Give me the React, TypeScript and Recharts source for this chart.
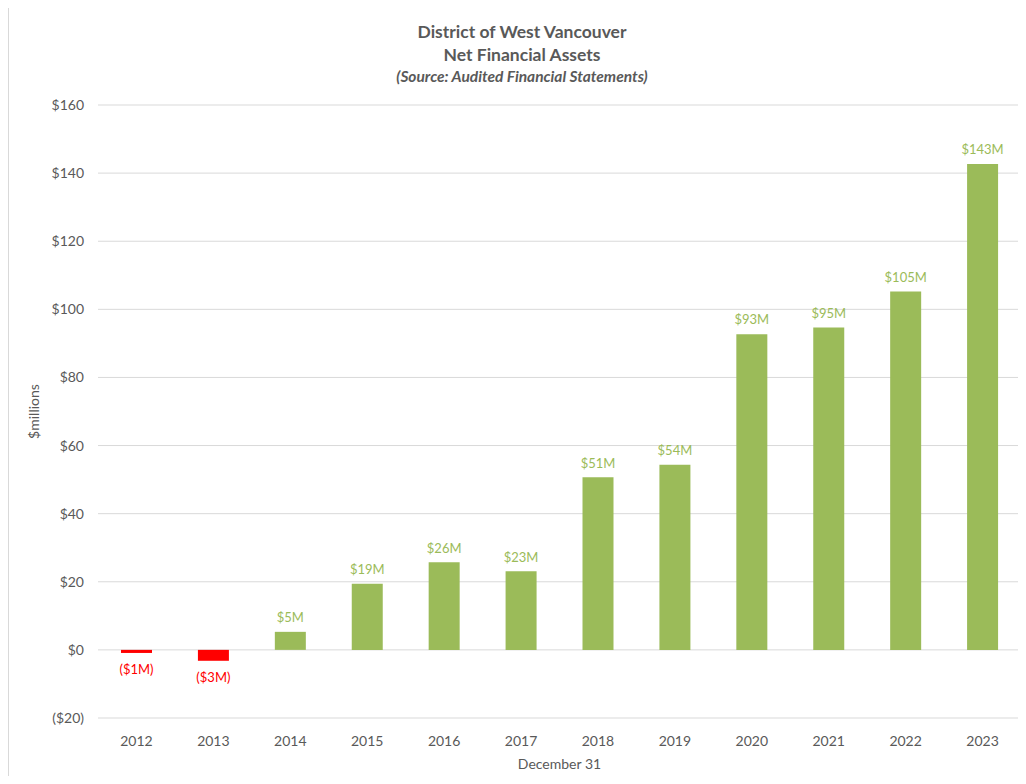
import React from "react";
import {
  BarChart,
  Bar,
  Cell,
  CartesianGrid,
  XAxis,
  YAxis,
  LabelList,
} from "recharts";

const years = ["2012", "2013", "2014", "2015", "2016", "2017", "2018", "2019", "2020", "2021", "2022", "2023"];
const netAssets = [-0.9, -3.2, 5.3, 19.4, 25.7, 23.1, 50.7, 54.4, 92.7, 94.7, 105.2, 142.7];
const yTicks = [-20, 0, 20, 40, 60, 80, 100, 120, 140, 160];

const data = years.map((year, i) => ({ year, value: netAssets[i] }));

const GREEN = "#9BBB59";
const RED = "#FF0000";
const FONT = "Lato, 'Open Sans', sans-serif";

const fmtTick = (v: number) => (v < 0 ? `($${Math.abs(v)})` : `$${v}`);
const fmtLabel = (v: number) =>
  v < 0 ? `($${Math.round(Math.abs(v))}M)` : `$${Math.round(v)}M`;

const ValueLabel = (props: any) => {
  const { x, y, width, height, value } = props;
  const neg = value < 0;
  const cx = x + width / 2;
  // negative bars come with a negative height, so take min/max
  const top = Math.min(y, y + height);
  const bottom = Math.max(y, y + height);
  return (
    <text
      x={cx}
      y={neg ? bottom + 18 : top - 13}
      textAnchor="middle"
      dominantBaseline="middle"
      fontSize={13}
      fontFamily={FONT}
      fill={neg ? RED : GREEN}
    >
      {fmtLabel(value)}
    </text>
  );
};

export default function App() {
  return (
    <div style={{ margin: -8, position: "relative", width: 1026, height: 784, background: "#fff", fontFamily: FONT }}>
      <div style={{ position: "absolute", left: 8, top: 0, width: 1, height: 784, background: "#d9d9d9" }} />
      <div style={{ position: "absolute", left: 0, width: 1044, top: 20, textAlign: "center", color: "#595959" }}>
        <div style={{ fontSize: 17.5, fontWeight: 700, lineHeight: "23px" }}>District of West Vancouver</div>
        <div style={{ fontSize: 17.5, fontWeight: 700, lineHeight: "23px" }}>Net Financial Assets</div>
        <div style={{ fontSize: 15.5, fontWeight: 700, fontStyle: "italic", lineHeight: "20px" }}>
          (Source: Audited Financial Statements)
        </div>
      </div>
      <BarChart
        width={1026}
        height={784}
        data={data}
        margin={{ top: 105, right: 5, bottom: 0, left: 0 }}
        barSize={31}
      >
        <CartesianGrid vertical={false} stroke="#d9d9d9" />
        <XAxis
          dataKey="year"
          axisLine={false}
          tickLine={false}
          tickMargin={12}
          height={66}
          tick={{ fill: "#595959", fontSize: 14, fontFamily: FONT }}
          label={{
            value: "December 31",
            position: "insideBottom",
            offset: 15,
            fill: "#595959",
            fontSize: 14,
            fontFamily: FONT,
          }}
        />
        <YAxis
          domain={[-20, 160]}
          ticks={yTicks}
          interval={0}
          width={98}
          axisLine={false}
          tickLine={false}
          tickMargin={8}
          tickFormatter={fmtTick}
          tick={{ fill: "#595959", fontSize: 14, fontFamily: FONT }}
          label={{
            value: "$millions",
            angle: -90,
            position: "insideLeft",
            offset: 34,
            fill: "#595959",
            fontSize: 14,
            fontFamily: FONT,
            style: { textAnchor: "middle" },
          }}
        />
        <Bar dataKey="value" isAnimationActive={false}>
          {data.map((d) => (
            <Cell key={d.year} fill={d.value < 0 ? RED : GREEN} />
          ))}
          <LabelList dataKey="value" content={ValueLabel} />
        </Bar>
      </BarChart>
    </div>
  );
}
